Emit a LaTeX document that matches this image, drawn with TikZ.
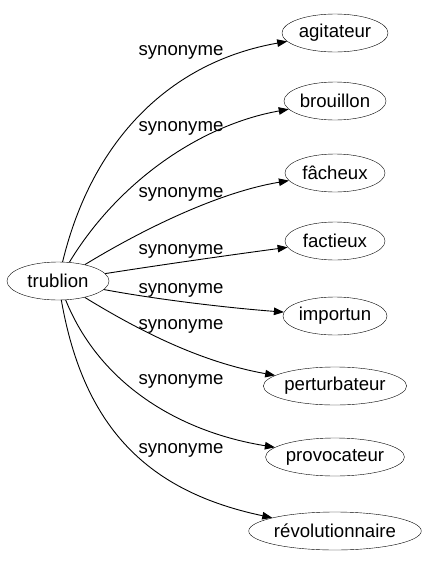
\documentclass[tikz,border=0pt]{standalone}
\usepackage{fontspec}
\setmainfont{Liberation Sans}
\usetikzlibrary{arrows.meta,shapes.geometric}
\begin{document}
\begin{tikzpicture}[x=1pt,y=-1pt,
  word/.style={draw,ellipse,inner sep=0pt,minimum height=38pt,font=\fontsize{18.6}{21}\selectfont},
  rel/.style={font=\fontsize{18.6}{21}\selectfont,inner sep=0pt},
  edge/.style={draw,line width=0.9pt,-{Triangle[length=10pt,width=7.5pt]}}]
\useasboundingbox (0,0) rectangle (435,563);
\node[word,minimum width=102pt] (trublion) at (58,281) {trublion};
\node[word,minimum width=106pt] (agitateur) at (335,33) {agitateur};
\node[word,minimum width=102pt] (brouillon) at (335,101) {brouillon};
\node[word,minimum width=100pt] (facheux) at (335,173) {fâcheux};
\node[word,minimum width=100pt] (factieux) at (335,241) {factieux};
\node[word,minimum width=104pt] (importun) at (335,316) {importun};
\node[word,minimum width=140pt] (perturbateur) at (335,386) {perturbateur};
\node[word,minimum width=132pt] (provocateur) at (335,457) {provocateur};
\node[word,minimum width=162pt] (revolutionnaire) at (335,531) {révolutionnaire};
\node[rel] (l1) at (181,52) {synonyme};
\node[rel] (l2) at (181,128) {synonyme};
\node[rel] (l3) at (181,194) {synonyme};
\node[rel] (l4) at (181,251) {synonyme};
\node[rel] (l5) at (181,290) {synonyme};
\node[rel] (l6) at (181,326) {synonyme};
\node[rel] (l7) at (181,381) {synonyme};
\node[rel] (l8) at (181,450) {synonyme};
\draw[edge] (trublion) .. controls (92,140) and (170,62) .. (agitateur);
\draw[edge] (trublion) .. controls (118,182) and (200,125) .. (brouillon);
\draw[edge] (trublion) .. controls (145,228) and (220,192) .. (facheux);
\draw[edge] (trublion) .. controls (160,265) and (230,255) .. (factieux);
\draw[edge] (trublion) .. controls (160,300) and (230,308) .. (importun);
\draw[edge] (trublion) .. controls (138,330) and (200,362) .. (perturbateur);
\draw[edge] (trublion) .. controls (100,385) and (180,432) .. (provocateur);
\draw[edge] (trublion) .. controls (84,430) and (150,492) .. (revolutionnaire);
\end{tikzpicture}
\end{document}
